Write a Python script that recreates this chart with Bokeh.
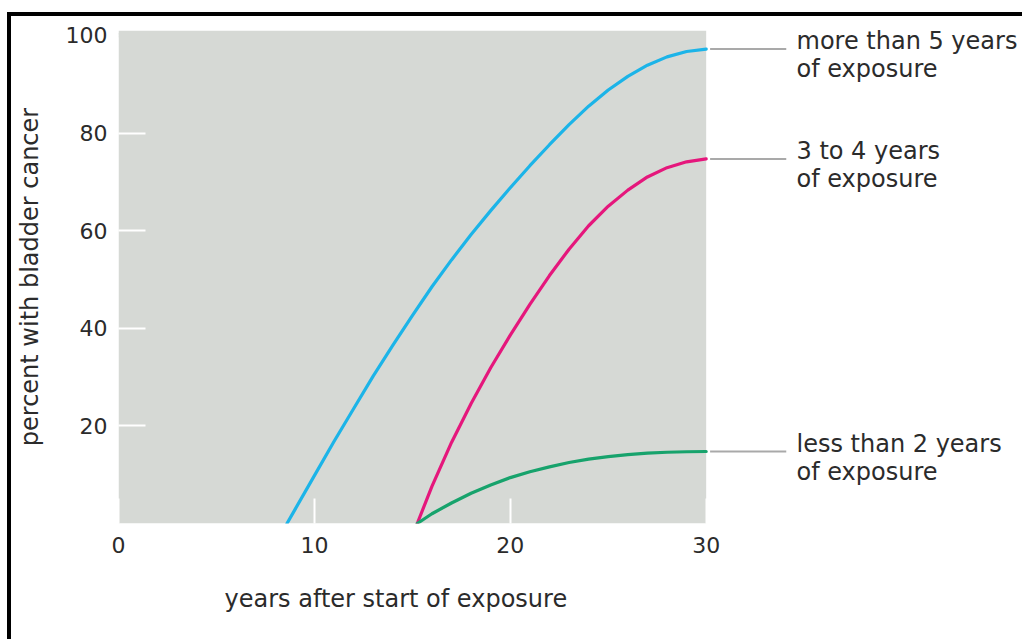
from bokeh.plotting import figure
from bokeh.models import Range1d, FixedTicker, BoxAnnotation, LinearAxis, Title
from bokeh.embed import file_html
from bokeh.resources import INLINE

# ---- data ----
years_long = [8.6, 9, 10, 11, 12, 13, 14, 15, 16, 17, 18, 19, 20, 21, 22, 23, 24, 25, 26, 27, 28, 29, 30]
pct_long = [0, 2.8, 9.8, 16.8, 23.5, 30.2, 36.5, 42.6, 48.5, 54.0, 59.2, 64.1, 68.8, 73.3, 77.6, 81.7, 85.5, 88.8, 91.6, 93.9, 95.6, 96.7, 97.2]

years_mid = [15.25, 16, 17, 18, 19, 20, 21, 22, 23, 24, 25, 26, 27, 28, 29, 30]
pct_mid = [0, 7.6, 16.6, 24.6, 31.9, 38.6, 44.9, 50.8, 56.2, 61.0, 65.0, 68.3, 71.0, 72.9, 74.1, 74.7]

years_short = [15.25, 16, 17, 18, 19, 20, 21, 22, 23, 24, 25, 26, 27, 28, 29, 30]
pct_short = [0, 2.0, 4.2, 6.2, 7.9, 9.4, 10.6, 11.6, 12.5, 13.2, 13.7, 14.1, 14.4, 14.6, 14.7, 14.75]

series_labels = ["more than 5 years\nof exposure", "3 to 4 years\nof exposure", "less than 2 years\nof exposure"]
series_colors = ["#1cb4e8", "#e5177c", "#17a36c"]

x_ticks = [0, 10, 20, 30]
y_ticks = [20, 40, 60, 80, 100]
x_title = "years after start of exposure"
y_title = "percent with bladder cancer"

FONT = "DejaVu Sans"
TXT = "#2b2b2b"
GRAY_BG = "#d6d9d5"
X_MAX = 30        # end of the shaded plotting area
LEADER_END = 34.1  # right end of the leader lines (frame edge)

p = figure(width=1015, height=627, output_backend="svg", toolbar_location=None,
           x_range=Range1d(0, LEADER_END), y_range=Range1d(0, 101),
           min_border_left=107, min_border_right=240, min_border_top=14, min_border_bottom=120)
p.margin = (16, 0, 0, 11)
p.styles = {"box-shadow": "-4px -4px 0 0 black"}
p.background_fill_color = "white"
p.border_fill_color = "white"
p.outline_line_color = None
p.grid.grid_line_color = None

# shaded plotting area 0..30 x 0..101
p.add_layout(BoxAnnotation(left=0, right=X_MAX, bottom=0, top=101,
                           fill_color=GRAY_BG, fill_alpha=1, line_color=None, level="underlay"))

p.xaxis.ticker = FixedTicker(ticks=x_ticks)
p.yaxis.ticker = FixedTicker(ticks=y_ticks)

ends = [pct_long[-1], pct_mid[-1], pct_short[-1]]
label_pos = [e - 1.3 for e in ends]
raxis = LinearAxis(ticker=FixedTicker(ticks=label_pos),
                   major_label_overrides={v: t for v, t in zip(label_pos, series_labels)})
p.add_layout(raxis, "right")

for ax in (p.xaxis[0], p.yaxis[0], raxis):
    ax.axis_line_color = None
    ax.minor_tick_line_color = None
    ax.major_label_text_font = FONT
    ax.major_label_text_color = TXT

for ax in (p.xaxis[0], p.yaxis[0]):
    ax.major_tick_line_color = "white"
    ax.major_tick_line_width = 2
    ax.major_tick_out = 0
    ax.major_label_text_font_size = "22px"

p.xaxis[0].major_tick_in = 25
p.yaxis[0].major_tick_in = 27
p.xaxis[0].major_label_standoff = 13
p.yaxis[0].major_label_standoff = 11

p.yaxis[0].axis_label = y_title
p.yaxis[0].axis_label_text_font = FONT
p.yaxis[0].axis_label_text_font_size = "24px"
p.yaxis[0].axis_label_text_font_style = "normal"
p.yaxis[0].axis_label_text_color = TXT
p.yaxis[0].axis_label_standoff = 19

p.add_layout(Title(text=x_title, align="left", offset=106, standoff=55,
                   text_font=FONT, text_font_size="24px", text_font_style="normal",
                   text_color=TXT), "below")

raxis.major_tick_in = 0
raxis.major_tick_out = 0
raxis.major_tick_line_color = None
raxis.major_label_standoff = 10
raxis.major_label_text_font_size = "24px"
raxis.major_label_text_line_height = 1.0

# hide the tick at 100 (none in the reference)
p.add_layout(BoxAnnotation(left=0, right=1.6, bottom=99.6, top=100.5,
                           fill_color=GRAY_BG, fill_alpha=1, line_color=None, level="overlay"))

for xs, ys, c in zip([years_long, years_mid, years_short], [pct_long, pct_mid, pct_short], series_colors):
    p.line(xs, ys, line_color=c, line_width=3.2, line_join="round", line_cap="round")

# leader lines from the curve ends to the labels
p.segment(x0=[X_MAX + 0.2] * 3, y0=ends, x1=[LEADER_END] * 3, y1=ends,
          line_color="#a9a9a9", line_width=2)

open("out.html", "w").write(file_html(p, INLINE))
